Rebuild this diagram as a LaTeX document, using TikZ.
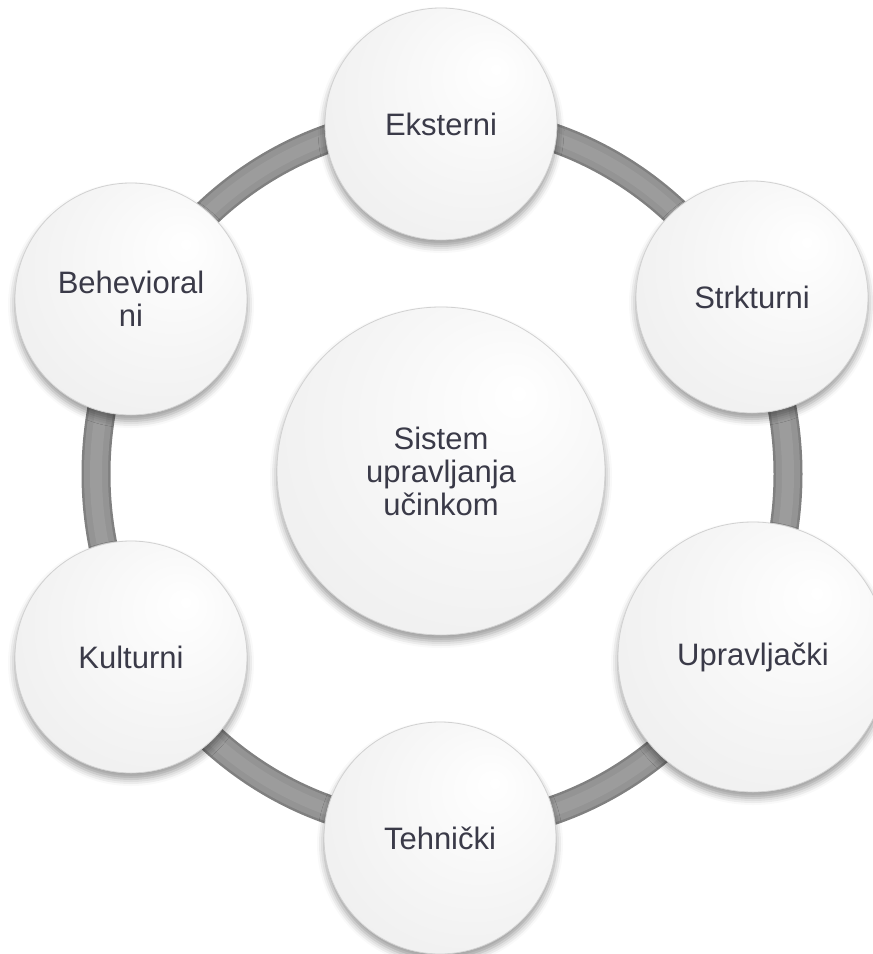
\documentclass[tikz,border=0pt]{standalone}
\usepackage{fontspec}
\setmainfont{Liberation Sans}
\usetikzlibrary{shadows.blur}
\definecolor{txtgray}{RGB}{58,58,72}
\definecolor{ringdark}{RGB}{128,128,128}
\definecolor{ringmid}{RGB}{148,148,148}
\definecolor{ringlite}{RGB}{156,156,156}
\pgfdeclareradialshading{btnshade}{\pgfpoint{12bp}{12bp}}{color(0bp)=(white); color(22bp)=(white!96!black); color(40bp)=(white!93!black); color(50bp)=(white!87!black); color(60bp)=(white!78!black)}
\tikzset{
  crc_n/.style = {circle, draw=white!82!black, line width=0.8pt, shading=btnshade, minimum size=232pt, inner sep=0pt, align=center, text=txtgray, font=\fontsize{31}{33}\selectfont, blur shadow={shadow xshift=0pt, shadow yshift=-6pt, shadow blur radius=7pt, shadow opacity=40}},
  crc_c/.style = {crc_n, minimum size=328pt},
  tube_r/.style = {line width=29pt, ringdark},
  tube_m/.style = {line width=24pt, ringmid},
  tube_l/.style = {line width=12pt, ringlite}
}

\begin{document}
\begin{tikzpicture}[x=1pt,y=-1pt]
  \useasboundingbox (0,0) rectangle (873,954);
  % ring behind the circles
  \draw[tube_r] (442,474) ellipse [x radius=346pt, y radius=355pt];
  \draw[tube_m] (442,474) ellipse [x radius=346pt, y radius=355pt];
  \draw[tube_l] (442,474) ellipse [x radius=346pt, y radius=355pt];

  \node[crc_c] (sys) at (441,471) {Sistem\\upravljanja\\učinkom};
  \node[crc_n] (eks) at (441,124) {Eksterni};
  \node[crc_n] (str) at (752,297) {Strkturni};
  \node[crc_n, minimum size=270pt] (upr) at (753,657) {Upravljački};
  \node[crc_n] (teh) at (440,838) {Tehnički};
  \node[crc_n] (kul) at (131,657) {Kulturni};
  \node[crc_n] (beh) at (131,299) {Behevioral\\ni};
\end{tikzpicture}
\end{document}
